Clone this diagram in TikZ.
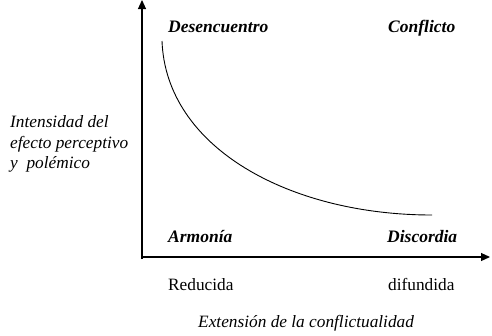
\documentclass[tikz,border=0pt]{standalone}
\usepackage{fontspec}
\setmainfont{Liberation Serif}
\usetikzlibrary{arrows.meta}
\begin{document}
\begin{tikzpicture}[x=1pt,y=-1pt,
  lbl/.style={anchor=base west,inner sep=0pt,font=\fontsize{17.3}{20}\selectfont},
  quad/.style={lbl,font=\fontsize{17.5}{20}\selectfont\bfseries\itshape},
  ital/.style={lbl,font=\fontsize{17.3}{20}\selectfont\itshape},
  axis/.style={line width=1.1pt,-{Triangle[length=9pt,width=8pt]}},
  curve/.style={line width=0.9pt}]
\useasboundingbox (0,0) rectangle (492,335);
% axes
\coordinate (ybot) at (142,259);
\coordinate (ytop) at (142,0);
\coordinate (xorig) at (141.5,257);
\coordinate (xend) at (490,257);
\draw[axis] (ybot) -- (ytop);
\draw[axis] (xorig) -- (xend);
% curve
\coordinate (cs) at (162,41);
\coordinate (ce) at (432,215);
\draw[curve] (cs) .. controls (166,148) and (290,215) .. (ce);
% quadrant labels
\node[quad] (des) at (168,32.7) {Desencuentro};
\node[quad] (con) at (388,32.7) {Conflicto};
\node[quad] (arm) at (168,242) {Armonía};
\node[quad] (dis) at (387,242) {Discordia};
% axis labels
\node[lbl] (red) at (168,290.7) {Reducida};
\node[lbl] (dif) at (388,290.7) {difundida};
\node[ital] (ext) at (198,327.3) {Extensión de la conflictualidad};
\node[ital] (int1) at (10,127.7) {Intensidad del};
\node[ital] (int2) at (10,148.3) {efecto perceptivo};
\node[ital] (int3) at (10,168.6) {y\ \ polémico};
\end{tikzpicture}
\end{document}
